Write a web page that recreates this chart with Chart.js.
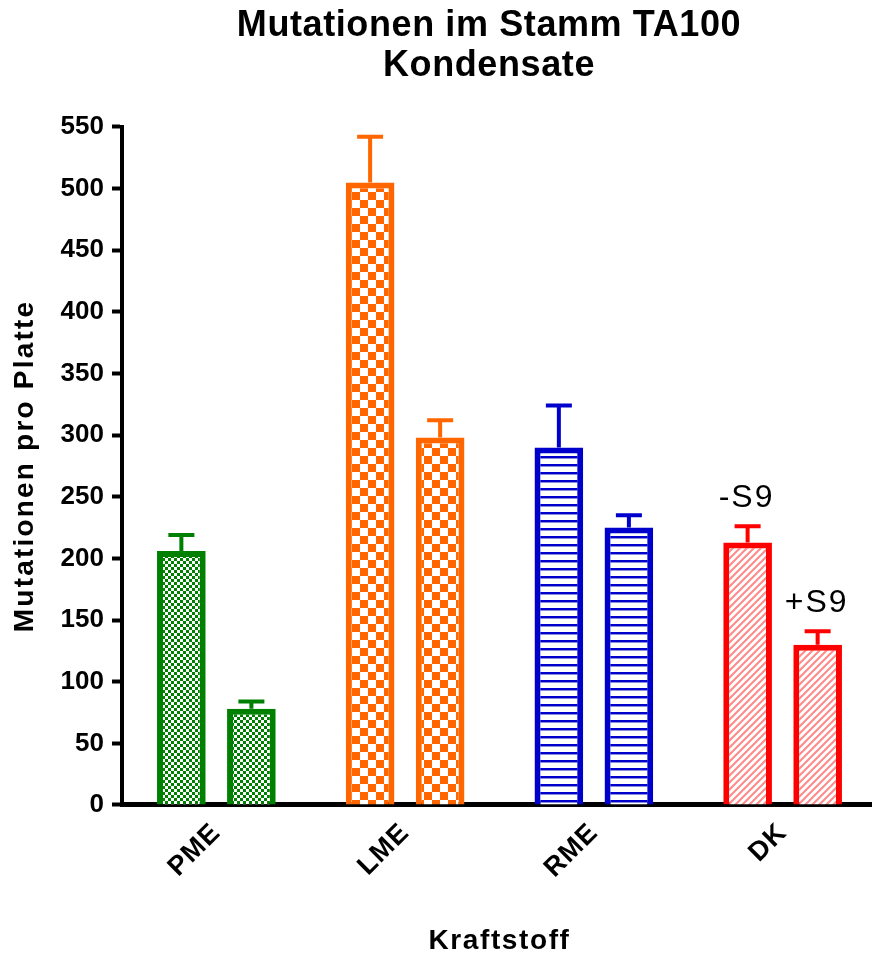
<!DOCTYPE html>
<html>
<head>
<meta charset="utf-8">
<script src="https://cdn.jsdelivr.net/npm/chart.js@4/dist/chart.umd.min.js"></script>
<style>
  html, body { margin: 0; padding: 0; background: #fff; }
  #wrap { width: 872px; height: 958px; }
</style>
</head>
<body>
<div id="wrap"><canvas id="c" width="872" height="958"></canvas></div>
<script>
const categories = ['PME', 'LME', 'RME', 'DK'];
const seriesLabels = ['-S9', '+S9'];
const minusS9 = [206, 505, 290, 213];
const minusS9Err = [13, 37, 34, 13];
const plusS9 = [78, 298, 225, 130];
const plusS9Err = [6, 14, 10, 11];
const yTicks = { min: 0, max: 550, step: 50 };
const colors = ['#008000', '#ff6600', '#0000cc', '#ff0000'];
const FONT = 'Arial, "Liberation Sans", sans-serif';

function makePattern(kind, color) {
  const c = document.createElement('canvas');
  let g;
  if (kind === 'fine') {
    c.width = 6; c.height = 6; g = c.getContext('2d');
    g.fillStyle = '#fff'; g.fillRect(0, 0, 6, 6);
    g.fillStyle = color; g.fillRect(0, 0, 3, 3); g.fillRect(3, 3, 3, 3);
  } else if (kind === 'checker') {
    c.width = 16; c.height = 16; g = c.getContext('2d');
    g.fillStyle = '#fff'; g.fillRect(0, 0, 16, 16);
    g.fillStyle = color; g.fillRect(0, 0, 8, 8); g.fillRect(8, 8, 8, 8);
  } else if (kind === 'hstripe') {
    c.width = 8; c.height = 8; g = c.getContext('2d');
    g.fillStyle = '#fff'; g.fillRect(0, 0, 8, 8);
    g.fillStyle = color; g.fillRect(0, 0, 8, 2);
    g.fillStyle = '#8c8ce0'; g.fillRect(0, 2, 8, 1);
  } else {
    c.width = 7; c.height = 7; g = c.getContext('2d');
    g.fillStyle = '#fff'; g.fillRect(0, 0, 7, 7);
    g.strokeStyle = '#ff8a8a'; g.lineWidth = 2;
    g.beginPath();
    g.moveTo(-1, 8); g.lineTo(8, -1);
    g.moveTo(-1, 1); g.lineTo(1, -1);
    g.moveTo(6, 8); g.lineTo(8, 6);
    g.stroke();
  }
  return document.getElementById('c').getContext('2d').createPattern(c, 'repeat');
}

const kinds = ['fine', 'checker', 'hstripe', 'diag'];
const fills = kinds.map((k, i) => makePattern(k, colors[i]));

// wrap a draw method so that its text is drawn with extra letter spacing
function spaced(obj, method, spacing) {
  if (!obj || !obj[method] || obj[method].__spaced) return;
  const orig = obj[method];
  const f = function (...args) {
    const ctx = this.ctx;
    const prev = ctx.letterSpacing;
    ctx.letterSpacing = spacing;
    try { return orig.apply(this, args); } finally { ctx.letterSpacing = prev || '0px'; }
  };
  f.__spaced = true;
  obj[method] = f;
}

const tweaks = {
  id: 'tweaks',
  afterLayout(chart) {
    // the reference's category axis runs a little past the right edge of the picture
    const x = chart.scales.x;
    x.right = chart.chartArea.right + 5;
    x.width = x.right - x.left;
    x.configure();
    // the title is centred over the plot rather than over the whole picture
    const t = chart.titleBlock;
    if (t) { t.left = 106; t.right = chart.width; t.width = t.right - t.left; }
    spaced(chart.titleBlock, 'draw', '0.6px');
    spaced(chart.scales.y, 'drawTitle', '2.2px');
    spaced(chart.scales.x, 'drawTitle', '1.6px');
    spaced(chart.scales.x, 'drawLabels', '1px');
  }
};

const errorBars = {
  id: 'errorBars',
  afterDatasetsDraw(chart) {
    const ctx = chart.ctx;
    const ys = chart.scales.y;
    const errs = [minusS9Err, plusS9Err];
    chart.data.datasets.forEach((ds, di) => {
      const meta = chart.getDatasetMeta(di);
      meta.data.forEach((el, j) => {
        const top = ys.getPixelForValue(ds.data[j] + errs[di][j]);
        ctx.save();
        ctx.strokeStyle = colors[j];
        ctx.lineWidth = 4;
        ctx.beginPath();
        ctx.moveTo(el.x, el.y);
        ctx.lineTo(el.x, top);
        ctx.moveTo(el.x - 13, top);
        ctx.lineTo(el.x + 13, top);
        ctx.stroke();
        ctx.restore();
      });
    });
    // series notes above the last category
    const last = categories.length - 1;
    ctx.save();
    ctx.fillStyle = '#000';
    ctx.font = '32px ' + FONT;
    ctx.letterSpacing = '2px';
    ctx.textAlign = 'center';
    ctx.textBaseline = 'alphabetic';
    chart.data.datasets.forEach((ds, di) => {
      const el = chart.getDatasetMeta(di).data[last];
      const top = ys.getPixelForValue(ds.data[last] + errs[di][last]);
      ctx.fillText(seriesLabels[di], el.x - 1, top - 19);
    });
    ctx.restore();
  }
};

new Chart(document.getElementById('c'), {
  type: 'bar',
  data: {
    labels: categories,
    datasets: [
      { label: seriesLabels[0], data: minusS9, backgroundColor: fills, borderColor: colors, borderWidth: 6, borderSkipped: 'start' },
      { label: seriesLabels[1], data: plusS9, backgroundColor: fills, borderColor: colors, borderWidth: 6, borderSkipped: 'start' }
    ]
  },
  options: {
    responsive: false,
    animation: false,
    categoryPercentage: 0.742,
    barPercentage: 0.695,
    layout: { padding: { left: 0, right: 0, top: 0, bottom: 0 } },
    plugins: {
      legend: { display: false },
      tooltip: { enabled: false },
      title: {
        display: true,
        text: ['Mutationen im Stamm TA100', 'Kondensate'],
        color: '#000',
        font: { family: FONT, size: 36, weight: 'bold', lineHeight: 1.11 },
        padding: { top: 6, bottom: 41 }
      }
    },
    scales: {
      x: {
        afterFit(s) { s.height = 153; },
        grid: { display: false },
        border: { display: true, color: '#000', width: 5 },
        ticks: {
          color: '#000', minRotation: 45, maxRotation: 45, padding: 4,
          font: { family: FONT, size: 27, weight: 'bold' }
        },
        title: {
          display: true, text: 'Kraftstoff', color: '#000',
          font: { family: FONT, size: 28, weight: 'bold', lineHeight: 1.2 },
          padding: { top: 0, bottom: 0 }
        }
      },
      y: {
        min: yTicks.min, max: yTicks.max,
        afterFit(s) { s.width = 122; },
        grid: { display: true, drawOnChartArea: false, drawTicks: true, tickLength: 10, tickWidth: 4, tickColor: '#000', color: '#000' },
        border: { display: true, color: '#000', width: 4 },
        ticks: {
          stepSize: yTicks.step, color: '#000', padding: 8,
          font: { family: FONT, size: 26, weight: 'bold' }
        },
        title: {
          display: true, text: 'Mutationen pro Platte', color: '#000',
          font: { family: FONT, size: 28, weight: 'bold', lineHeight: 1.2 },
          padding: { top: 8, bottom: 0 }
        }
      }
    }
  },
  plugins: [tweaks, errorBars]
});
</script>
</body>
</html>
